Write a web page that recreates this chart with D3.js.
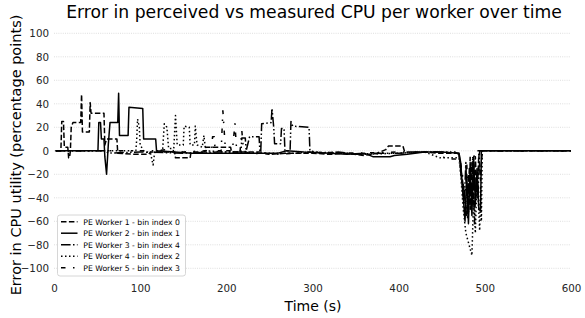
<!DOCTYPE html>
<html><head><meta charset="utf-8">
<script src="https://cdn.jsdelivr.net/npm/d3@7"></script>
<style>body{margin:0;background:#fff}svg{display:block;font-family:"DejaVu Sans",sans-serif}</style>
</head><body><svg id="c" width="585" height="318"></svg>
<script>
const titleText = "Error in perceived vs measured CPU per worker over time";
const xLabel = "Time (s)";
const yLabel = "Error in CPU utility (percentage points)";
const xTicks = [0,100,200,300,400,500,600];
const yTicks = [-100,-80,-60,-40,-20,0,20,40,60,80,100];
const seriesNames = ["PE Worker 1 - bin index 0","PE Worker 2 - bin index 1","PE Worker 3 - bin index 4","PE Worker 4 - bin index 2","PE Worker 5 - bin index 3"];

const worker1 = [[2,0],[8,0],[9,25],[11,25],[12,3],[16,3],[17,-6],[18,-6],[19,0],[20,20],[22,24],[31,24],[32,48],[33,16],[41,16],[42,41],[43,32],[58,32],[59,5],[61,10],[73,10],[74,-2],[95,-3],[110,-3],[112,-1],[140,-1],[141,-6],[158,-6],[159,-1],[175,-1],[176,3],[205,3],[206,-1],[240,-1],[250,-3],[270,-2],[300,-2],[320,-3],[340,-2],[360,-4],[375,-2],[385,1],[388,4],[405,4],[407,-1],[430,-1],[445,-2],[470,-2],[472,-15],[476,-35],[479,-55],[481,-20],[483,-50],[485,-10],[487,-45],[489,-5],[491,-40],[493,-3],[495,-25],[497,0],[600,0]];
const worker2 = [[2,0],[51,0],[52,24],[54,24],[55,10],[58,10],[59,-5],[61,-20],[63,5],[65,24],[74,24],[75,49],[76,13],[86,13],[87,37],[103,36],[104,10],[118,10],[119,0],[140,-1],[160,-2],[200,-2],[230,-2],[260,-2],[270,0],[290,-1],[320,-2],[340,-3],[360,-2],[370,-5],[390,-5],[395,-4],[410,-3],[430,-1],[450,-1],[470,-2],[472,-10],[475,-40],[477,-60],[479,-20],[481,-62],[483,-10],[485,-55],[487,-5],[489,-45],[491,-15],[493,-50],[495,-51],[496,0],[600,0]];
const worker3 = [[2,0],[60,0],[63,-2],[100,-1],[150,-2],[190,-1],[217,-1],[218,11],[222,11],[223,0],[227,12],[238,12],[239,-1],[240,0],[241,23],[252,24],[253,36],[255,20],[256,6],[263,6],[264,19],[267,19],[268,0],[274,0],[275,25],[277,21],[296,20],[297,0],[310,-2],[330,-1],[350,-3],[380,-2],[400,-2],[430,-1],[465,-1],[470,-3],[473,-25],[476,-45],[478,-10],[480,-58],[482,-15],[484,-48],[486,-5],[488,-62],[490,-20],[492,-40],[494,0],[600,0]];
const worker4 = [[2,0],[95,0],[96,10],[97,27],[99,20],[100,5],[104,0],[112,-2],[115,-12],[117,0],[126,0],[128,23],[131,20],[133,2],[139,2],[141,30],[143,5],[150,5],[151,21],[157,20],[158,5],[163,5],[164,21],[166,5],[172,3],[174,13],[176,0],[200,-1],[240,-2],[280,-2],[300,-1],[330,-2],[360,-3],[400,-2],[430,-1],[448,-6],[470,-6],[472,-20],[475,-50],[478,-70],[485,-89],[487,-40],[489,-70],[491,-20],[494,-68],[495,-30],[496,-60],[497,0],[600,0]];
const worker5 = [[2,0],[120,0],[130,1],[150,-1],[175,0],[183,0],[184,12],[186,12],[187,0],[194,0],[196,34],[197,23],[199,0],[207,0],[210,23],[212,0],[216,0],[218,17],[220,0],[226,-2],[260,-3],[300,-1],[350,-2],[400,-1],[445,-1],[455,-7],[466,-7],[470,-2],[474,-20],[477,-45],[479,-10],[481,-55],[483,-5],[485,-35],[488,0],[600,0]];

const dashes = ["5.5,2.4","","9.6,2.4,1.5,2.4,1.5,2.4","1.5,2.5","4.5,7.5,1.5,7.5"];
const allSeries = [worker1,worker2,worker3,worker4,worker5];

const svg = d3.select("#c");
const x = d3.scaleLinear().domain([0,600]).range([54,571]);
const y = d3.scaleLinear().domain([-100,100]).range([268.3,33.3]);

// grid
svg.append("g").selectAll("line").data(yTicks).join("line")
  .attr("x1",x(0)).attr("x2",x(600)).attr("y1",d=>y(d)).attr("y2",d=>y(d))
  .attr("stroke","#d6d6d6").attr("stroke-width",0.8).attr("stroke-dasharray","1,1.2");

// axes
const yAxis = d3.axisLeft(y).tickValues(yTicks).tickSize(0).tickPadding(5).tickFormat(d3.format("d"));
const gy = svg.append("g").attr("transform",`translate(${x(0)},0)`).call(yAxis);
gy.select(".domain").remove();
gy.selectAll("text").attr("font-size","10.3px").attr("fill","#262626").attr("font-family","DejaVu Sans");
const xAxis = d3.axisBottom(x).tickValues(xTicks).tickSize(0).tickPadding(5).tickFormat(d3.format("d"));
const gx = svg.append("g").attr("transform",`translate(0,280)`).call(xAxis);
gx.select(".domain").remove();
gx.selectAll("text").attr("font-size","10.3px").attr("fill","#262626").attr("font-family","DejaVu Sans");

// lines
const line = d3.line().x(d=>x(d[0])).y(d=>y(d[1]));
allSeries.forEach((s,i)=>{
  svg.append("path").datum(s).attr("d",line).attr("fill","none")
    .attr("stroke","#000").attr("stroke-width",1.5)
    .attr("stroke-dasharray",dashes[i]||null).attr("stroke-linejoin","round");
});

// title & labels
svg.append("text").attr("x",314).attr("y",18).attr("text-anchor","middle")
  .attr("font-size","17.2px").attr("fill","#000").text(titleText);
svg.append("text").attr("x",313).attr("y",311).attr("text-anchor","middle")
  .attr("font-size","14px").attr("fill","#000").text(xLabel);
svg.append("text").attr("transform","translate(20.5,155) rotate(-90)").attr("text-anchor","middle")
  .attr("font-size","14.5px").attr("fill","#000").text(yLabel);

// legend
const lg = svg.append("g");
lg.append("rect").attr("x",57.5).attr("y",215).attr("width",128).attr("height",61)
  .attr("rx",2.5).attr("fill","#fff").attr("fill-opacity",0.85).attr("stroke","#cccccc").attr("stroke-width",0.8);
seriesNames.forEach((n,i)=>{
  const yy = 221.7 + i*11.5;
  lg.append("line").attr("x1",61).attr("x2",77.5).attr("y1",yy).attr("y2",yy)
    .attr("stroke","#000").attr("stroke-width",1.5).attr("stroke-dasharray",dashes[i]||null);
  lg.append("text").attr("x",83.3).attr("y",yy+2.8).attr("font-size","7.7px").attr("fill","#000").text(n);
});
</script></body></html>
